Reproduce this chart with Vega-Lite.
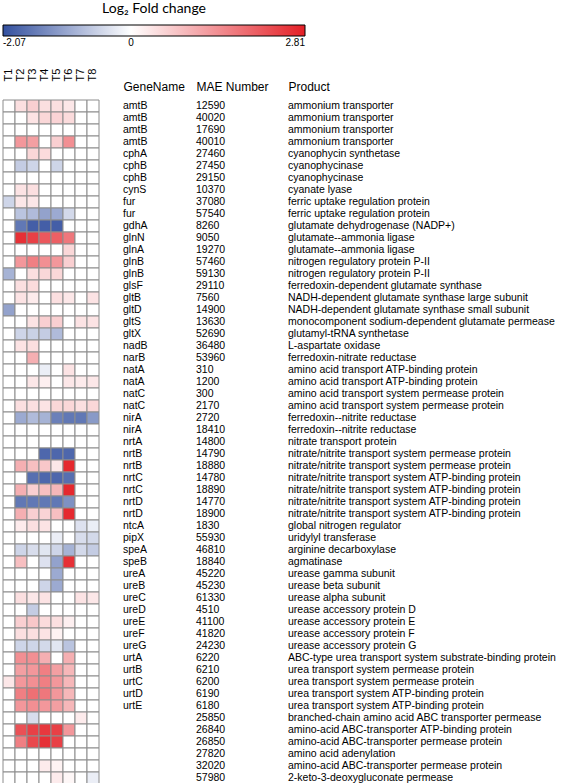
{
  "$schema": "https://vega.github.io/schema/vega-lite/v6.json",
  "padding": {"left": 2, "top": 2, "right": 0, "bottom": 0},
  "background": "#ffffff",
  "bounds": "flush",
  "datasets": {
    "rows": [
      {"idx": 1, "gene": "amtB", "mae": "12590", "product": "ammonium transporter", "T1": 0, "T2": 0.4, "T3": 0.6, "T4": 0.4, "T5": 0.4, "T6": 0.3, "T7": 0, "T8": 0},
      {"idx": 2, "gene": "amtB", "mae": "40020", "product": "ammonium transporter", "T1": 0, "T2": 0, "T3": 0.35, "T4": 0.5, "T5": 0.55, "T6": 0.45, "T7": 0, "T8": 0},
      {"idx": 3, "gene": "amtB", "mae": "17690", "product": "ammonium transporter", "T1": 0, "T2": 0, "T3": 0, "T4": 0, "T5": 0, "T6": 0, "T7": 0, "T8": 0},
      {"idx": 4, "gene": "amtB", "mae": "40010", "product": "ammonium transporter", "T1": 0, "T2": 1.3, "T3": 1.2, "T4": 0, "T5": 0.6, "T6": 1.4, "T7": 0, "T8": 0},
      {"idx": 5, "gene": "cphA", "mae": "27460", "product": "cyanophycin synthetase", "T1": 0, "T2": 0, "T3": 0.5, "T4": 0.45, "T5": 0, "T6": 0, "T7": 0, "T8": 0},
      {"idx": 6, "gene": "cphB", "mae": "27450", "product": "cyanophycinase", "T1": 0, "T2": -0.6, "T3": -0.5, "T4": 0, "T5": -0.5, "T6": 0, "T7": 0, "T8": 0},
      {"idx": 7, "gene": "cphB", "mae": "29150", "product": "cyanophycinase", "T1": 0, "T2": 0, "T3": 0, "T4": 0, "T5": 0, "T6": 0, "T7": 0, "T8": 0},
      {"idx": 8, "gene": "cynS", "mae": "10370", "product": "cyanate lyase", "T1": 0, "T2": 0.35, "T3": 0.4, "T4": 0, "T5": 0, "T6": 0, "T7": 0, "T8": 0},
      {"idx": 9, "gene": "fur", "mae": "37080", "product": "ferric uptake regulation protein", "T1": -0.5, "T2": 0.3, "T3": 0.3, "T4": 0, "T5": 0, "T6": 0, "T7": 0, "T8": 0},
      {"idx": 10, "gene": "fur", "mae": "57540", "product": "ferric uptake regulation protein", "T1": 0, "T2": -0.7, "T3": -0.8, "T4": -1.1, "T5": -1.0, "T6": -0.45, "T7": 0, "T8": 0},
      {"idx": 11, "gene": "gdhA", "mae": "8260", "product": "glutamate dehydrogenase (NADP+)", "T1": 0, "T2": -1.6, "T3": -1.9, "T4": -1.9, "T5": -1.9, "T6": 0, "T7": 0, "T8": 0},
      {"idx": 12, "gene": "glnN", "mae": "9050", "product": "glutamate--ammonia ligase", "T1": 0, "T2": 2.6, "T3": 2.4, "T4": 2.1, "T5": 2.0, "T6": 1.7, "T7": 0, "T8": 0},
      {"idx": 13, "gene": "glnA", "mae": "19270", "product": "glutamate--ammonia ligase", "T1": 0, "T2": 0, "T3": 0, "T4": 0, "T5": 0, "T6": 0.5, "T7": 0, "T8": 0},
      {"idx": 14, "gene": "glnB", "mae": "57460", "product": "nitrogen regulatory protein P-II", "T1": 0, "T2": 1.3, "T3": 1.6, "T4": 1.4, "T5": 1.3, "T6": 0.6, "T7": 0, "T8": 0},
      {"idx": 15, "gene": "glnB", "mae": "59130", "product": "nitrogen regulatory protein P-II", "T1": -0.9, "T2": 0, "T3": 0.4, "T4": 0.5, "T5": 0.5, "T6": 0, "T7": 0, "T8": 0},
      {"idx": 16, "gene": "glsF", "mae": "29110", "product": "ferredoxin-dependent glutamate synthase", "T1": 0, "T2": 0.4, "T3": 0.45, "T4": 0, "T5": 0, "T6": 0, "T7": 0, "T8": 0},
      {"idx": 17, "gene": "gltB", "mae": "7560", "product": "NADH-dependent glutamate synthase large subunit", "T1": 0, "T2": 0.35, "T3": 0.25, "T4": 0, "T5": 0.4, "T6": 0.3, "T7": 0, "T8": 0.35},
      {"idx": 18, "gene": "gltD", "mae": "14900", "product": "NADH-dependent glutamate synthase small subunit", "T1": -1.1, "T2": 0, "T3": 0, "T4": 0, "T5": 0, "T6": 0, "T7": 0, "T8": 0},
      {"idx": 19, "gene": "gltS", "mae": "13630", "product": "monocomponent sodium-dependent glutamate permease", "T1": 0, "T2": 0, "T3": 0.35, "T4": 0.6, "T5": 0.6, "T6": 0, "T7": 0.35, "T8": 0.35},
      {"idx": 20, "gene": "gltX", "mae": "52690", "product": "glutamyl-tRNA synthetase", "T1": 0, "T2": -0.5, "T3": -0.55, "T4": -0.6, "T5": -0.8, "T6": 0, "T7": 0, "T8": 0},
      {"idx": 21, "gene": "nadB", "mae": "36480", "product": "L-aspartate oxidase", "T1": 0, "T2": 0.35, "T3": 0.4, "T4": 0, "T5": 0, "T6": 0, "T7": 0, "T8": 0},
      {"idx": 22, "gene": "narB", "mae": "53960", "product": "ferredoxin-nitrate reductase", "T1": 0, "T2": 0, "T3": 1.0, "T4": 0, "T5": 0, "T6": 0, "T7": 0, "T8": 0},
      {"idx": 23, "gene": "natA", "mae": "310", "product": "amino acid transport ATP-binding protein", "T1": 0, "T2": 0, "T3": 0, "T4": -0.2, "T5": 0, "T6": 0.35, "T7": 0, "T8": 0},
      {"idx": 24, "gene": "natA", "mae": "1200", "product": "amino acid transport ATP-binding protein", "T1": 0, "T2": 0, "T3": 0.3, "T4": 0.2, "T5": 0, "T6": 0.3, "T7": 0.25, "T8": 0.3},
      {"idx": 25, "gene": "natC", "mae": "300", "product": "amino acid transport system permease protein", "T1": 0, "T2": 0, "T3": 0, "T4": 0, "T5": 0, "T6": 0, "T7": 0, "T8": 0},
      {"idx": 26, "gene": "natC", "mae": "2170", "product": "amino acid transport system permease protein", "T1": 0, "T2": 0.4, "T3": 0.4, "T4": 0.35, "T5": 0.5, "T6": 0.5, "T7": 0.4, "T8": 0.5},
      {"idx": 27, "gene": "nirA", "mae": "2720", "product": "ferredoxin--nitrite reductase", "T1": 0, "T2": -1.0, "T3": -0.8, "T4": -0.9, "T5": -1.5, "T6": -1.6, "T7": -1.6, "T8": -1.2},
      {"idx": 28, "gene": "nirA", "mae": "18410", "product": "ferredoxin--nitrite reductase", "T1": 0, "T2": 0, "T3": 0, "T4": 0, "T5": 0, "T6": 0, "T7": 0, "T8": 0},
      {"idx": 29, "gene": "nrtA", "mae": "14800", "product": "nitrate transport protein", "T1": 0, "T2": 0, "T3": 0, "T4": 0, "T5": 0, "T6": 0, "T7": 0, "T8": 0},
      {"idx": 30, "gene": "nrtB", "mae": "14790", "product": "nitrate/nitrite transport system permease protein", "T1": 0, "T2": 0, "T3": 0, "T4": -1.8, "T5": -1.8, "T6": -1.8, "T7": 0, "T8": 0},
      {"idx": 31, "gene": "nrtB", "mae": "18880", "product": "nitrate/nitrite transport system permease protein", "T1": 0, "T2": 1.0, "T3": 0.8, "T4": 0.7, "T5": 0.3, "T6": 2.7, "T7": 0, "T8": 0},
      {"idx": 32, "gene": "nrtC", "mae": "14780", "product": "nitrate/nitrite transport system ATP-binding protein", "T1": 0, "T2": 0, "T3": -1.7, "T4": -1.8, "T5": -1.8, "T6": -1.7, "T7": 0, "T8": 0},
      {"idx": 33, "gene": "nrtC", "mae": "18890", "product": "nitrate/nitrite transport system ATP-binding protein", "T1": 0, "T2": 1.0, "T3": 0.6, "T4": 0.8, "T5": 0.9, "T6": 2.7, "T7": 0, "T8": 0},
      {"idx": 34, "gene": "nrtD", "mae": "14770", "product": "nitrate/nitrite transport system ATP-binding protein", "T1": 0, "T2": -1.6, "T3": -1.6, "T4": -1.6, "T5": -1.6, "T6": -1.3, "T7": 0, "T8": 0},
      {"idx": 35, "gene": "nrtD", "mae": "18900", "product": "nitrate/nitrite transport system ATP-binding protein", "T1": 0, "T2": 1.0, "T3": 0.6, "T4": 0.55, "T5": 0.8, "T6": 2.7, "T7": 0, "T8": 0},
      {"idx": 36, "gene": "ntcA", "mae": "1830", "product": "global nitrogen regulator", "T1": 0, "T2": 0.25, "T3": 0.4, "T4": 0.35, "T5": 0, "T6": 0, "T7": -0.35, "T8": -0.2},
      {"idx": 37, "gene": "pipX", "mae": "55930", "product": "uridylyl transferase", "T1": 0, "T2": 0, "T3": 0, "T4": 0, "T5": -0.2, "T6": 0, "T7": -0.4, "T8": -0.45},
      {"idx": 38, "gene": "speA", "mae": "46810", "product": "arginine decarboxylase", "T1": 0, "T2": -0.5, "T3": -0.4, "T4": -0.3, "T5": -0.5, "T6": -0.9, "T7": -0.45, "T8": -0.6},
      {"idx": 39, "gene": "speB", "mae": "18840", "product": "agmatinase", "T1": 0, "T2": 0.8, "T3": 0, "T4": -0.35, "T5": -1.1, "T6": 2.6, "T7": 0, "T8": 0},
      {"idx": 40, "gene": "ureA", "mae": "45220", "product": "urease gamma subunit", "T1": 0, "T2": 0, "T3": 0, "T4": 0, "T5": -1.0, "T6": 0, "T7": 0, "T8": 0},
      {"idx": 41, "gene": "ureB", "mae": "45230", "product": "urease beta subunit", "T1": 0, "T2": 0, "T3": 0, "T4": -0.5, "T5": -1.0, "T6": 0, "T7": 0, "T8": 0},
      {"idx": 42, "gene": "ureC", "mae": "61330", "product": "urease alpha subunit", "T1": 0, "T2": 0.4, "T3": 0.3, "T4": 0.35, "T5": 0, "T6": 0, "T7": 0.35, "T8": 0.3},
      {"idx": 43, "gene": "ureD", "mae": "4510", "product": "urease accessory protein D", "T1": 0, "T2": 0, "T3": -0.6, "T4": 0, "T5": 0, "T6": 0, "T7": 0, "T8": 0},
      {"idx": 44, "gene": "ureE", "mae": "41100", "product": "urease accessory protein E", "T1": 0, "T2": 0.6, "T3": 0.7, "T4": 0.45, "T5": 0.4, "T6": 0.2, "T7": 0, "T8": 0},
      {"idx": 45, "gene": "ureF", "mae": "41820", "product": "urease accessory protein F", "T1": 0, "T2": 0.4, "T3": 0.4, "T4": 0.35, "T5": 0.15, "T6": 0, "T7": 0, "T8": 0},
      {"idx": 46, "gene": "ureG", "mae": "24230", "product": "urease accessory protein G", "T1": 0, "T2": -0.5, "T3": -0.5, "T4": -0.45, "T5": -0.3, "T6": -0.7, "T7": 0, "T8": 0},
      {"idx": 47, "gene": "urtA", "mae": "6220", "product": "ABC-type urea transport system substrate-binding protein", "T1": 0, "T2": 1.4, "T3": 1.4, "T4": 1.0, "T5": 0, "T6": 1.0, "T7": 0, "T8": 0},
      {"idx": 48, "gene": "urtB", "mae": "6210", "product": "urea transport system permease protein", "T1": 0, "T2": 1.2, "T3": 1.3, "T4": 1.6, "T5": 1.2, "T6": 0.9, "T7": 0, "T8": 0},
      {"idx": 49, "gene": "urtC", "mae": "6200", "product": "urea transport system permease protein", "T1": 0.3, "T2": 1.3, "T3": 1.4, "T4": 1.6, "T5": 1.3, "T6": 0.9, "T7": 0, "T8": 0},
      {"idx": 50, "gene": "urtD", "mae": "6190", "product": "urea transport system ATP-binding protein", "T1": 0, "T2": 1.6, "T3": 1.8, "T4": 1.7, "T5": 1.3, "T6": 0.9, "T7": 0, "T8": 0},
      {"idx": 51, "gene": "urtE", "mae": "6180", "product": "urea transport system ATP-binding protein", "T1": 0, "T2": 1.3, "T3": 1.4, "T4": 1.3, "T5": 1.2, "T6": 0.9, "T7": 0, "T8": 0},
      {"idx": 52, "gene": "", "mae": "25850", "product": "branched-chain amino acid ABC transporter permease", "T1": 0, "T2": 0, "T3": -0.4, "T4": 0, "T5": 0, "T6": 0, "T7": 0.25, "T8": 0},
      {"idx": 53, "gene": "", "mae": "26840", "product": "amino-acid ABC-transporter ATP-binding protein", "T1": 0, "T2": 2.2, "T3": 2.4, "T4": 2.5, "T5": 2.4, "T6": 1.3, "T7": 0, "T8": 0},
      {"idx": 54, "gene": "", "mae": "26850", "product": "amino-acid ABC-transporter permease protein", "T1": 0, "T2": 1.6, "T3": 2.3, "T4": 2.6, "T5": 2.4, "T6": 0, "T7": 0, "T8": 0},
      {"idx": 55, "gene": "", "mae": "27820", "product": "amino acid adenylation", "T1": 0, "T2": 0, "T3": 0, "T4": 0, "T5": 0, "T6": 0, "T7": 0, "T8": 0},
      {"idx": 56, "gene": "", "mae": "32020", "product": "amino-acid ABC-transporter permease protein", "T1": 0, "T2": 0, "T3": 0, "T4": 0.25, "T5": 0.15, "T6": 0, "T7": 0, "T8": 0},
      {"idx": 57, "gene": "", "mae": "57980", "product": "2-keto-3-deoxygluconate permease", "T1": 0, "T2": 0, "T3": 0, "T4": 0, "T5": 0.25, "T6": 0.1, "T7": 0, "T8": -0.2}
    ]
  },
  "data": {"name": "rows"},
  "spacing": 24,
  "hconcat": [
    {
      "width": 96,
      "height": 684,
      "transform": [{"fold": ["T1", "T2", "T3", "T4", "T5", "T6", "T7", "T8"], "as": ["cond", "lfc"]}],
      "mark": {"type": "rect", "stroke": "#8c8c8c", "strokeWidth": 1},
      "encoding": {
        "x": {"field": "cond", "type": "nominal", "sort": ["T1", "T2", "T3", "T4", "T5", "T6", "T7", "T8"],
          "scale": {"paddingInner": 0, "paddingOuter": 0},
          "axis": {"orient": "top", "title": null, "labelAngle": -90, "ticks": false, "domain": false, "labelPadding": 19, "labelFontSize": 11}},
        "y": {"field": "idx", "type": "ordinal", "scale": {"paddingInner": 0, "paddingOuter": 0}, "axis": null},
        "color": {"field": "lfc", "type": "quantitative",
          "scale": {"domain": [-2.07, 0, 2.81], "range": ["#33509f", "#ffffff", "#e41f26"], "interpolate": "rgb"},
          "legend": {"orient": "top", "direction": "horizontal", "title": "Log₂ Fold change",
            "titleFont": "Lato", "titleFontSize": 14, "titleFontWeight": "normal", "titleColor": "#000000",
            "titleAnchor": "middle", "titlePadding": 9,
            "gradientLength": 302, "gradientThickness": 11, "gradientStrokeColor": "#000000", "gradientStrokeWidth": 1,
            "values": [-2.07, 0, 2.81], "labelExpr": "toString(datum.value)",
            "labelFont": "Liberation Sans", "labelFontSize": 10, "labelColor": "#000000", "labelOffset": 2, "offset": 20}}
      }
    },
    {
      "width": 49,
      "height": 684,
      "mark": {"type": "text", "align": "left", "baseline": "middle", "font": "Liberation Sans", "fontSize": 10.5, "color": "#000000"},
      "encoding": {
        "x": {"datum": "GeneName", "type": "nominal", "scale": {"type": "point", "padding": 0, "align": 0},
          "axis": {"orient": "top", "title": null, "ticks": false, "domain": false, "labelAlign": "left", "labelAngle": 0, "labelPadding": 7, "labelFontSize": 12}},
        "y": {"field": "idx", "type": "ordinal", "scale": {"paddingInner": 0, "paddingOuter": 0}, "axis": null},
        "text": {"field": "gene"}
      }
    },
    {
      "width": 68,
      "height": 684,
      "mark": {"type": "text", "align": "left", "baseline": "middle", "font": "Liberation Sans", "fontSize": 10.5, "color": "#000000"},
      "encoding": {
        "x": {"datum": "MAE Number", "type": "nominal", "scale": {"type": "point", "padding": 0, "align": 0},
          "axis": {"orient": "top", "title": null, "ticks": false, "domain": false, "labelAlign": "left", "labelAngle": 0, "labelPadding": 7, "labelFontSize": 12}},
        "y": {"field": "idx", "type": "ordinal", "scale": {"paddingInner": 0, "paddingOuter": 0}, "axis": null},
        "text": {"field": "mae"}
      }
    },
    {
      "width": 260,
      "height": 684,
      "mark": {"type": "text", "align": "left", "baseline": "middle", "font": "Liberation Sans", "fontSize": 10.5, "color": "#000000"},
      "encoding": {
        "x": {"datum": "Product", "type": "nominal", "scale": {"type": "point", "padding": 0, "align": 0},
          "axis": {"orient": "top", "title": null, "ticks": false, "domain": false, "labelAlign": "left", "labelAngle": 0, "labelPadding": 7, "labelFontSize": 12}},
        "y": {"field": "idx", "type": "ordinal", "scale": {"paddingInner": 0, "paddingOuter": 0}, "axis": null},
        "text": {"field": "product"}
      }
    }
  ],
  "config": {
    "view": {"stroke": null},
    "axis": {"labelFont": "Liberation Sans", "labelColor": "#000000"}
  }
}
